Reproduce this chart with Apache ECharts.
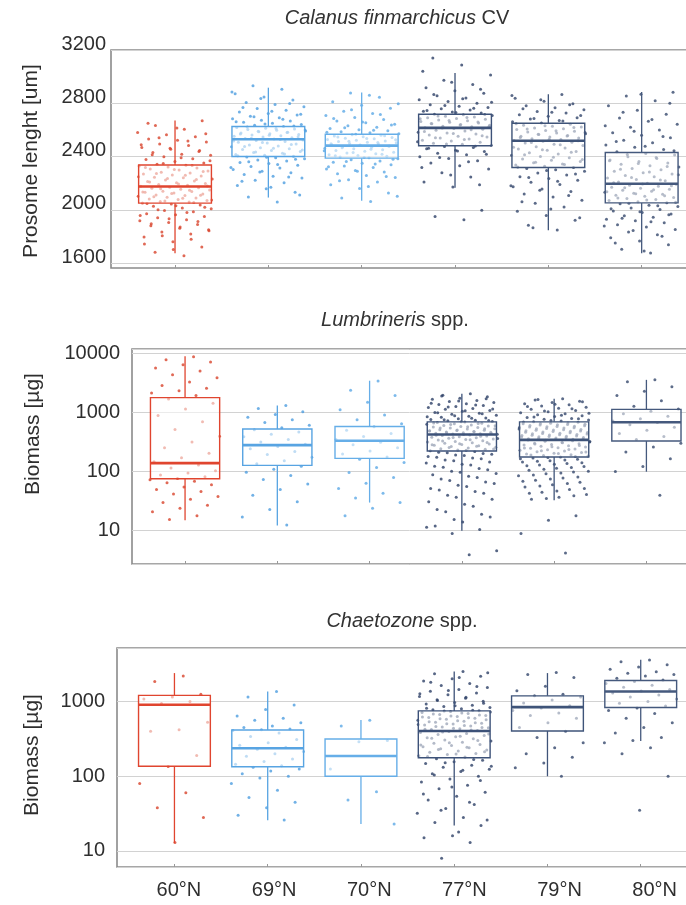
<!DOCTYPE html>
<html><head><meta charset="utf-8">
<script src="https://cdn.jsdelivr.net/npm/echarts@6/dist/echarts.min.js"></script>
<style>html,body{margin:0;padding:0;background:#fff}#c{width:686px;height:905px}</style>
</head><body><div id="c"></div>
<script>
const categories = ['60°N','69°N','70°N','77°N','79°N','80°N'];
const p1Ticks = [1600,2000,2400,2800,3200];

// Panel 1: Calanus finmarchicus CV, prosome length (um) — box statistics
const p1Low  = [1674, 2092, 2068, 2166, 1846, 1674];
const p1Q1   = [2050, 2400, 2388, 2481, 2318, 2052];
const p1Med  = [2175, 2530, 2482, 2615, 2518, 2196];
const p1Q3   = [2336, 2625, 2567, 2718, 2650, 2430];
const p1High = [2671, 2917, 2880, 3028, 2868, 2885];

// Panel 1 individual measurements (estimated)
const cal60 = [1655,1682,1721,1760,1795,1818,1833,1851,1862,1880,1889,1904,1917,1926,1941,1950,1963,1971,1986,1994,2008,2013,2027,2036,2044,
 2051,2058,2063,2070,2077,2081,2089,2094,2102,2107,2112,2119,2126,2131,2137,2140,2149,2155,2161,2166,2170,
 2176,2184,2190,2197,2204,2212,2216,2223,2231,2240,2244,2253,2262,2268,2277,2282,2291,2299,2306,2314,2322,2329,2335,
 2342,2351,2363,2377,2384,2398,2409,2417,2431,2446,2455,2468,2483,2494,2509,2522,2531,2548,2563,2580,2604,2633,2668,
 1702,1744,1778,1806,1842,1870,1895,1912,1933,1958,1979,2001,2019,2031,2048,2055,2067,2074,2086,2098,2110,2122,2134,2146,2158,
 2179,2193,2209,2227,2236,2249,2259,2273,2287,2302,2318,2332,2347,2369,2391,2413,2438,2462,2489,2517,2541,2572,2615,2650];
const cal69 = [2058,2096,2131,2158,2183,2204,2221,2238,2252,2266,2279,2290,2303,2314,2326,2335,2347,2355,2366,2374,2383,2391,2397,
 2403,2409,2416,2424,2430,2437,2445,2452,2458,2466,2473,2479,2487,2494,2501,2508,2513,2520,2525,
 2531,2535,2541,2546,2552,2556,2561,2566,2571,2577,2582,2586,2592,2597,2603,2607,2612,2618,
 2626,2634,2641,2650,2657,2666,2673,2684,2692,2703,2711,2724,2735,2748,2760,2774,2791,2806,2825,2848,2871,2905,2932,
 2112,2170,2214,2247,2283,2318,2341,2361,2379,2394,2406,2419,2434,2449,2462,2476,2490,2505,2517,2528,2538,2549,2559,2569,
 2580,2590,2600,2610,2621,2630,2645,2662,2680,2698,2718,2740,2768,2798,2835,2885];
const cal70 = [2062,2089,2127,2160,2188,2209,2226,2243,2258,2271,2283,2296,2306,2318,2329,2338,2349,2358,2367,2376,2383,
 2391,2396,2403,2408,2414,2421,2427,2433,2440,2446,2451,2458,2463,2469,2474,2479,
 2484,2489,2494,2498,2503,2508,2513,2517,2523,2528,2533,2538,2543,2549,2554,2559,2564,
 2571,2578,2586,2593,2602,2611,2620,2631,2642,2653,2667,2679,2693,2708,2724,2741,2762,2785,2812,2846,2878,
 2102,2175,2218,2251,2289,2323,2344,2362,2380,2393,2406,2418,2430,2443,2455,2466,2477,2486,2496,2506,2515,2526,2536,2546,
 2557,2568,2582,2598,2616,2637,2660,2686,2716,2752,2797,2860];
const cal77 = [1926,1949,1997,2171,2208,2246,2279,2306,2330,2351,2368,2385,2399,2413,2424,2437,2448,2458,2467,2476,
 2484,2492,2499,2507,2516,2523,2531,2539,2546,2553,2562,2569,2577,2583,2591,2598,2605,2611,
 2617,2623,2628,2634,2640,2646,2651,2657,2663,2668,2674,2680,2686,2691,2697,2703,2708,2714,2718,
 2726,2734,2741,2750,2759,2768,2778,2788,2801,2813,2826,2840,2857,2875,2894,2916,2941,2972,3012,3087,3140,
 2189,2262,2318,2360,2392,2418,2442,2462,2480,2495,2511,2527,2542,2557,2573,2588,2602,2614,2626,2637,2649,2660,2671,2683,
 2694,2705,2716,2730,2745,2763,2783,2807,2833,2866,2905,2958,3040];
const cal79 = [1848,1884,1921,1958,1990,2021,2049,2072,2096,2118,2137,2156,2173,2190,2206,2221,2235,2249,2262,2276,2289,2301,2311,
 2318,2327,2336,2344,2353,2363,2372,2381,2391,2400,2410,2419,2428,2437,2447,2456,2465,2474,2483,2492,2501,2508,
 2515,2521,2527,2533,2540,2546,2552,2558,2565,2571,2577,2584,2590,2596,2603,2609,2615,2622,2628,2634,
 2643,2652,2662,2670,2681,2691,2702,2713,2726,2738,2752,2766,2781,2797,2815,2838,2866,
 1866,1940,2006,2060,2107,2147,2181,2214,2242,2269,2295,2322,2340,2358,2377,2395,2414,2433,2451,2469,2488,2505,2518,2530,
 2543,2555,2568,2581,2593,2606,2618,2631,2647,2666,2686,2708,2732,2759,2789,2826,2858];
const cal80 = [1676,1704,1737,1765,1791,1813,1834,1853,1871,1887,1903,1917,1930,1944,1956,1968,1979,1991,2002,2013,2024,2035,2045,
 2053,2061,2069,2077,2085,2093,2101,2109,2117,2124,2132,2140,2147,2155,2162,2170,2177,2184,2191,
 2199,2208,2218,2228,2238,2248,2258,2268,2279,2289,2300,2310,2321,2331,2342,2352,2363,2374,2386,2398,2411,2422,
 2436,2453,2469,2487,2504,2522,2541,2560,2579,2599,2620,2642,2665,2690,2718,2748,2781,2818,2855,2882,
 1690,1751,1802,1844,1879,1910,1937,1962,1985,2008,2030,2049,2057,2073,2089,2105,2120,2136,2151,2166,2180,2194,2203,2223,
 2243,2263,2284,2305,2326,2347,2369,2392,2416,2444,2478,2513,2550,2589,2631,2678,2733,2800,2868];

// Panel 2: Lumbrineris spp., biomass (ug) — box statistics
const p2Low  = [15, 12.3, 30, 10, 32.7, 100];
const p2Q1   = [76, 128, 168, 224, 178, 331];
const p2Med  = [140, 282, 335, 428, 346, 690];
const p2Q3   = [1800, 530, 582, 700, 700, 1140];
const p2High = [9000, 1330, 3480, 2090, 1725, 3600];

const lum60 = [8900,7900,7200,6500,5700,5100,4400,3900,3300,2900,2600,2350,2150,1950,1700,1450,1150,900,700,520,400,320,255,205,172,148,130,116,104,95,88,82,77,73,69,65,60,55,50,46,42,38,34,30,27,24,21,18,15.5];
const lum69 = [1330,1180,1040,930,840,760,680,610,555,515,470,430,390,352,318,292,268,244,220,196,175,154,137,124,110,98,86,74,62,50,40,31,23,17,12.5];
const lum70 = [3450,2400,1950,1500,1120,910,760,650,575,505,445,395,350,315,285,255,225,200,178,162,143,118,97,80,64,52,43,36,30,24,18];
const lum77 = [2090,1980,1870,1760,1690,1610,1540,1490,1420,1380,1330,1270,1230,1180,1140,1090,1060,1010,975,940,905,870,840,815,790,770,748,729,711,694,680,
 662,648,637,621,609,596,583,570,560,548,537,528,516,505,497,489,480,471,464,455,449,441,435,430,
 419,410,402,393,385,377,368,360,351,343,335,326,318,311,303,296,289,281,274,268,260,253,246,240,233,227,
 219,209,198,188,176,165,153,141,130,119,108,98,89,80,71,63,56,49,43,37,31,26,21,17,14,12,10.5,9,4.6,3.9,
 1920,1720,1580,1450,1350,1250,1160,1075,1000,955,890,855,802,760,735,700,672,655,630,603,577,552,532,511,493,476,459,444,
 425,414,397,381,364,347,331,314,299,285,271,257,243,230,214,203,192,181,170,158,146,134,124,113,102,93,84,75,67,59,52,46,40,34,28,23,19,15.5,11.5];
const lum79 = [1720,1640,1560,1490,1420,1360,1300,1240,1190,1140,1090,1040,1000,960,925,890,858,828,800,774,750,726,705,686,
 664,648,631,616,600,585,570,555,541,528,515,502,490,478,466,455,444,434,424,414,404,395,386,377,368,359,352,
 344,336,328,320,312,305,297,290,283,276,269,262,255,249,243,236,230,224,218,212,206,200,194,189,184,
 178,170,162,154,146,138,130,122,114,106,99,92,85,78,72,66,60,55,50,45,41,37,34,18,15,9,4.2,
 1680,1525,1390,1270,1165,1065,980,905,843,787,737,695,672,656,639,623,607,592,577,562,548,534,521,508,496,484,472,460,449,
 439,429,419,409,399,390,381,372,363,355,340,324,308,294,279,265,252,239,227,215,203,191,181,174,166,158,150,142,134,126,
 118,110,102,95,88,81,75,69,63,57,52,47,43,39,35];
const lum80 = [3600,3350,2750,2300,1950,1600,1280,1150,1060,960,870,790,725,680,625,565,505,445,395,350,305,262,215,165,122,101,40];

// Panel 3: Chaetozone spp., biomass (ug) — box statistics
const p3Low  = [12.8, 25.7, 23, 22, 100, 297];
const p3Q1   = [136, 134, 100, 177, 404, 831];
const p3Med  = [905, 237, 187, 404, 841, 1361];
const p3Q3   = [1210, 417, 316, 750, 1193, 1914];
const p3High = [2405, 1360, 567, 2530, 2405, 3630];

const cha60 = [2200,1850,1250,1150,1080,1000,940,530,420,400,190,135,80,60,38,28,13];
const cha69 = [1360,1150,900,780,640,600,560,520,470,450,430,420,410,380,340,310,280,260,245,230,215,200,185,170,158,145,138,132,125,118,108,100,95,80,65,52,45,38,30,26];
const cha70 = [560,470,300,290,125,62,48,23];
const cha77 = [2520,2350,2180,2020,1880,1750,1640,1540,1450,1370,1300,1230,1170,1110,1060,1010,970,930,895,860,830,800,775,756,
 738,715,694,672,652,632,614,596,578,561,545,529,514,499,485,471,458,445,433,421,410,
 398,386,374,362,350,339,328,317,306,296,286,276,267,258,249,241,233,225,217,210,202,195,188,181,
 172,164,156,148,140,132,124,116,108,100,92,84,76,68,61,54,48,42,37,32,28,24,22,16,15,13,8,
 2430,2100,1810,1590,1410,1270,1140,1035,950,878,815,765,745,726,704,683,662,642,623,605,587,570,553,537,521,506,492,478,
 464,451,439,427,415,392,368,344,322,301,281,262,245,229,213,198,184,168,152,136,120,104,88,72,58,45,35,26,18];
const cha79 = [2450,2300,2100,1600,1400,1250,1200,1150,1050,960,880,820,760,700,650,600,520,450,400,330,280,240,200,180,150,130,100];
const cha80 = [3600,3400,3100,2900,2700,2500,2400,2300,2200,2050,1950,1850,1750,1650,1550,1450,1380,1300,1220,1150,1080,1000,950,870,820,760,690,600,520,450,380,330,300,280,240,200,100,35];

const pointColors = ['#d8432c','#4d9de0','#5ca9e6','#2d4067','#33466b','#36496d'];
const boxColors   = ['#e0452f','#58a4e2','#66aee8','#3d5279','#3f5479','#45597d'];
const textColor = '#2e2e2e';
const FONT = '"Liberation Sans", Arial, Helvetica, sans-serif';

const panels = [
  {vals:[cal60,cal69,cal70,cal77,cal79,cal80], stats:[p1Low,p1Q1,p1Med,p1Q3,p1High], bw:0.78, size:3},
  {vals:[lum60,lum69,lum70,lum77,lum79,lum80], stats:[p2Low,p2Q1,p2Med,p2Q3,p2High], bw:0.75, size:3},
  {vals:[cha60,cha69,cha70,cha77,cha79,cha80], stats:[p3Low,p3Q1,p3Med,p3Q3,p3High], bw:0.77, size:3}
];

// horizontal jitter (layout only), golden-ratio low-discrepancy sequence
function jitter(vals, ci, spread) {
  return vals.map((v, k) => {
    const f = ((k + 1) * 0.6180339887) % 1;
    return [ci + 1 + (f - 0.5) * spread, v];
  });
}

function boxRender(bw) {
  return function (params, api) {
    const i = params.dataIndex;
    const x = api.value(0);
    const col = boxColors[i];
    const cx = api.coord([x, api.value(3)])[0];
    const xl = api.coord([x - bw / 2, api.value(3)])[0];
    const xr = api.coord([x + bw / 2, api.value(3)])[0];
    const yLow = api.coord([x, api.value(1)])[1];
    const yQ1 = api.coord([x, api.value(2)])[1];
    const yMed = api.coord([x, api.value(3)])[1];
    const yQ3 = api.coord([x, api.value(4)])[1];
    const yHigh = api.coord([x, api.value(5)])[1];
    return {type:'group', children:[
      {type:'line', shape:{x1:cx, y1:yQ3, x2:cx, y2:yHigh}, style:{stroke:col, lineWidth:1.3}},
      {type:'line', shape:{x1:cx, y1:yQ1, x2:cx, y2:yLow}, style:{stroke:col, lineWidth:1.3}},
      {type:'rect', shape:{x:xl, y:yQ3, width:xr - xl, height:yQ1 - yQ3}, style:{fill:'rgba(255,255,255,0.55)', stroke:col, lineWidth:1.4}},
      {type:'line', shape:{x1:xl, y1:yMed, x2:xr, y2:yMed}, style:{stroke:col, lineWidth:2.6}}
    ]};
  };
}

const grids = [
  {left:111, top:50, width:596, height:218},
  {left:132, top:349, width:579, height:215},
  {left:117, top:648, width:589, height:219}
].map(g => Object.assign(g, {show:true, borderColor:'#8a8a8a', borderWidth:1.6, backgroundColor:'transparent', outerBoundsMode:'none', containLabel:false}));

const xMins = [0.314, 0.425, 0.384];
const xAxes = xMins.map((mn, gi) => ({
  gridIndex: gi, type:'value', min: mn, max: 6.7,
  axisLine:{show:false}, splitLine:{show:false}, axisLabel:{show:false},
  axisTick:{show:true, inside:true, length:3, customValues:[1,2,3,4,5,6], lineStyle:{color:'#999', width:1}}
}));
xAxes.push({
  gridIndex: 2, type:'value', min:0.349, max:6.539, position:'bottom',
  axisLine:{show:false}, splitLine:{show:false}, axisTick:{show:false},
  axisLabel:{show:true, customValues:[1,2,3,4,5,6], formatter: v => categories[Math.round(v) - 1],
    fontSize:20, fontFamily:FONT, color:textColor, margin:13}
});

const splitStyle = {show:true, lineStyle:{color:'#d2d2d2', width:1}};
const yAxes = [
  {gridIndex:0, type:'value', min:1563, max:3200,
   axisLine:{show:false}, axisTick:{show:false, customValues:p1Ticks},
   axisLabel:{customValues:p1Ticks, formatter: v => String(Math.round(v)), fontSize:20, fontFamily:FONT, color:textColor, margin:5,
     verticalAlign:'bottom', lineHeight:12},
   splitLine:splitStyle},
  {gridIndex:1, type:'log', logBase:10, min:2.73, max:12000,
   axisLine:{show:false}, axisTick:{show:false},
   axisLabel:{showMinLabel:false, showMaxLabel:false, formatter: v => String(Math.round(v)), fontSize:20, fontFamily:FONT, color:textColor, margin:12},
   splitLine:splitStyle},
  {gridIndex:2, type:'log', logBase:10, min:6.1, max:5210,
   axisLine:{show:false}, axisTick:{show:false},
   axisLabel:{showMinLabel:false, showMaxLabel:false, formatter: v => String(Math.round(v)), fontSize:20, fontFamily:FONT, color:textColor, margin:12},
   splitLine:splitStyle}
];

const series = [];
panels.forEach((p, pi) => {
  p.vals.forEach((vals, ci) => {
    series.push({
      type:'scatter', xAxisIndex:pi, yAxisIndex:pi, symbolSize:p.size, silent:true,
      itemStyle:{color:pointColors[ci], opacity:0.8},
      data: jitter(vals, ci, p.bw + 0.03), z:2
    });
  });
  const boxData = categories.map((c, ci) => [ci + 1, p.stats[0][ci], p.stats[1][ci], p.stats[2][ci], p.stats[3][ci], p.stats[4][ci]]);
  series.push({
    type:'custom', xAxisIndex:pi, yAxisIndex:pi, renderItem: boxRender(p.bw), silent:true,
    encode:{x:0, y:[1,2,3,4,5]}, data: boxData, z:5
  });
});

function titleText(x, y, ital, rest) {
  return {type:'text', x:x, y:y, z:100, style:{
    text:'{i|' + ital + '}' + rest,
    rich:{i:{fontStyle:'italic', fontSize:20, fontFamily:FONT, fill:'#333'}},
    fontSize:20, fontFamily:FONT, fill:'#333', align:'center', verticalAlign:'middle'}};
}
function yName(x, y, txt) {
  return {type:'text', x:x, y:y, rotation:Math.PI / 2, z:100, style:{
    text:txt, fontSize:21, fontFamily:FONT, fill:textColor, align:'center', verticalAlign:'middle'}};
}

const chart = echarts.init(document.getElementById('c'), null, {renderer:'canvas', width:686, height:905});
chart.setOption({
  animation:false,
  backgroundColor:'#ffffff',
  grid: grids,
  xAxis: xAxes,
  yAxis: yAxes,
  series: series,
  graphic: [
    titleText(397, 18, 'Calanus finmarchicus', ' CV'),
    titleText(395, 320, 'Lumbrineris', ' spp.'),
    titleText(402, 621, 'Chaetozone', ' spp.'),
    yName(31, 161, 'Prosome lenght [um]'),
    yName(33, 434, 'Biomass [µg]'),
    yName(32, 755, 'Biomass [µg]')
  ]
});
</script></body></html>
